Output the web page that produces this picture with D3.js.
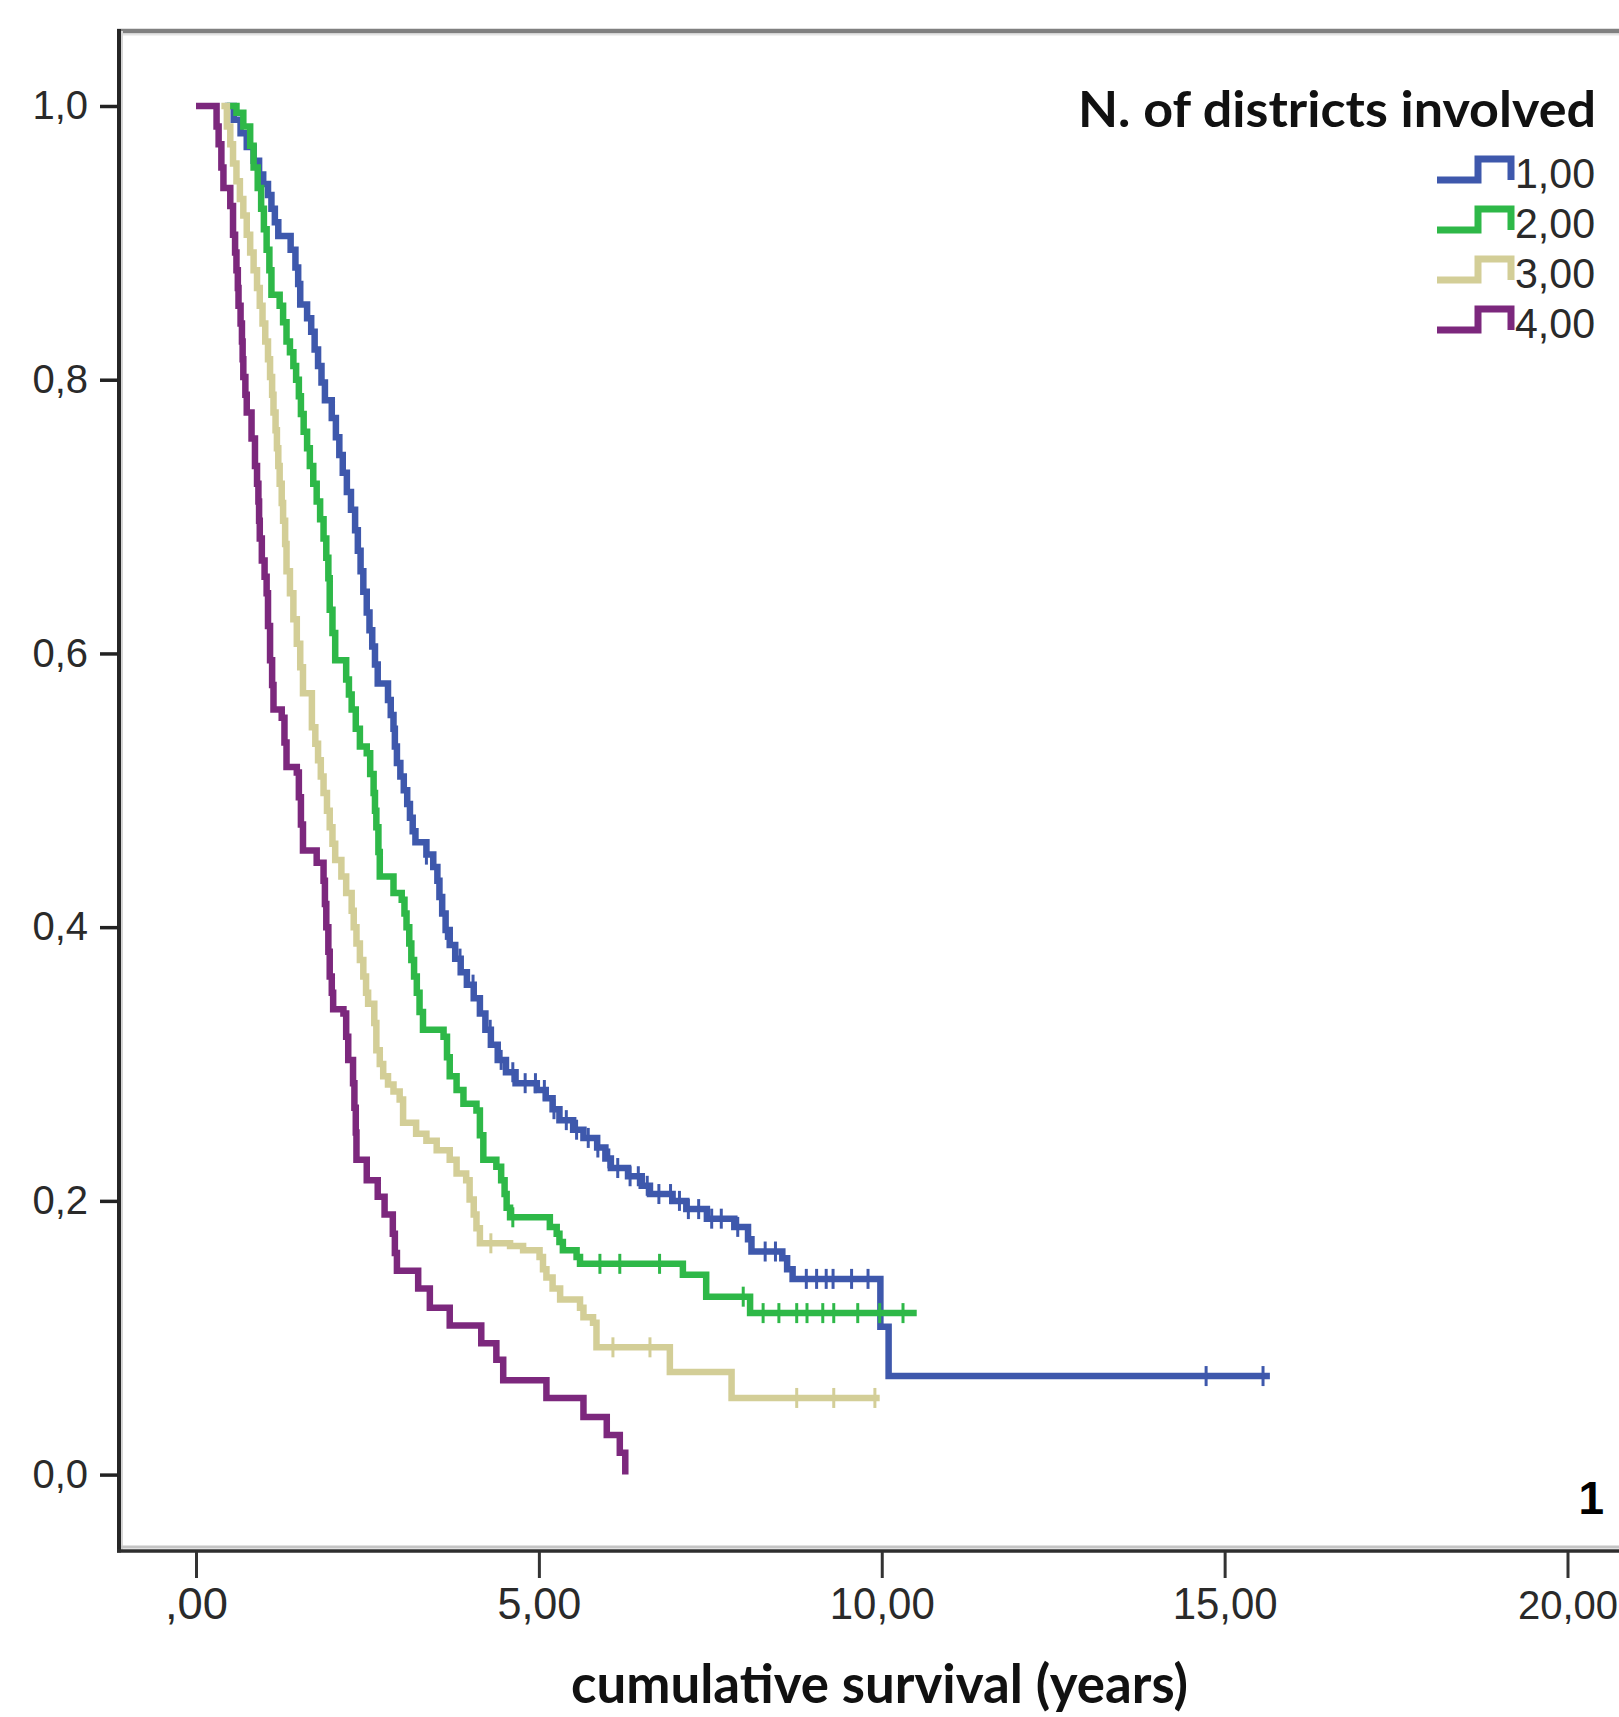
<!DOCTYPE html>
<html>
<head>
<meta charset="utf-8">
<script src="https://cdn.jsdelivr.net/npm/d3@7"></script>
<style>
  html, body { margin: 0; padding: 0; background: #ffffff; }
  svg { display: block; }
</style>
</head>
<body>
<svg id="chart" width="1619" height="1717"></svg>
<script>
// ---------------- DATA ----------------
const categories = ["1,00", "2,00", "3,00", "4,00"];
const legendTitle = "N. of districts involved";
const xTitle = "cumulative survival (years)";
const panelLabel = "1";

const xTicks = [0, 5, 10, 15, 20];
const xTickLabels = [",00", "5,00", "10,00", "15,00", "20,00"];
const yTicks = [0, 0.2, 0.4, 0.6, 0.8, 1.0];
const yTickLabels = ["0,0", "0,2", "0,4", "0,6", "0,8", "1,0"];

// Kaplan-Meier steps: [time (years), survival]
const series1 = [
  [0.42,1.0],[0.55,0.99],[0.65,0.98],[0.74,0.97],[0.84,0.96],[0.92,0.95],[0.98,0.943],
  [1.05,0.935],[1.10,0.925],[1.15,0.915],[1.20,0.905],[1.38,0.895],[1.45,0.882],[1.49,0.87],
  [1.52,0.855],[1.62,0.845],[1.68,0.835],[1.73,0.822],[1.78,0.81],[1.83,0.798],[1.88,0.785],
  [1.98,0.772],[2.04,0.758],[2.09,0.745],[2.14,0.732],[2.20,0.718],[2.26,0.705],[2.32,0.69],
  [2.36,0.675],[2.40,0.66],[2.44,0.645],[2.49,0.63],[2.53,0.617],[2.57,0.605],[2.61,0.592],
  [2.65,0.578],[2.80,0.566],[2.84,0.555],[2.88,0.545],[2.90,0.532],[2.93,0.52],[2.98,0.51],
  [3.03,0.50],[3.08,0.49],[3.12,0.48],[3.16,0.47],[3.20,0.462],[3.36,0.453],[3.46,0.444],
  [3.52,0.434],[3.55,0.422],[3.59,0.41],[3.64,0.398],[3.70,0.387],[3.78,0.377],[3.86,0.367],
  [3.95,0.358],[4.05,0.348],[4.14,0.337],[4.22,0.325],[4.30,0.314],[4.40,0.303],[4.52,0.294],
  [4.66,0.286],[4.97,0.281],[5.10,0.275],[5.20,0.267],[5.30,0.259],[5.50,0.252],[5.65,0.246],
  [5.85,0.239],[5.97,0.231],[6.05,0.224],[6.30,0.218],[6.50,0.211],[6.62,0.205],[6.95,0.200],
  [7.15,0.194],[7.45,0.187],[7.85,0.181],[8.05,0.172],[8.10,0.163],[8.55,0.158],[8.62,0.150],
  [8.70,0.143],[9.98,0.108],[10.10,0.072],[15.66,0.072]
];
const series2 = [
  [0.45,1.0],[0.59,0.995],[0.69,0.985],[0.79,0.971],[0.84,0.955],[0.90,0.94],[0.95,0.925],
  [0.99,0.91],[1.03,0.895],[1.07,0.88],[1.10,0.862],[1.22,0.854],[1.27,0.842],[1.32,0.828],
  [1.37,0.82],[1.42,0.81],[1.46,0.80],[1.50,0.788],[1.53,0.775],[1.57,0.762],[1.62,0.75],
  [1.66,0.737],[1.71,0.724],[1.76,0.711],[1.81,0.698],[1.86,0.684],[1.90,0.67],[1.93,0.655],
  [1.95,0.632],[1.99,0.615],[2.03,0.595],[2.19,0.581],[2.23,0.57],[2.27,0.559],[2.33,0.545],
  [2.39,0.532],[2.49,0.527],[2.54,0.512],[2.59,0.498],[2.61,0.485],[2.63,0.473],[2.66,0.455],
  [2.68,0.437],[2.88,0.425],[3.00,0.42],[3.04,0.41],[3.07,0.40],[3.11,0.388],[3.14,0.376],
  [3.18,0.364],[3.22,0.352],[3.26,0.338],[3.31,0.325],[3.61,0.32],[3.66,0.305],[3.70,0.291],
  [3.80,0.281],[3.90,0.271],[4.09,0.266],[4.14,0.248],[4.19,0.230],[4.38,0.225],[4.45,0.215],
  [4.50,0.205],[4.53,0.195],[4.58,0.188],[5.16,0.181],[5.26,0.176],[5.30,0.170],[5.35,0.164],
  [5.55,0.159],[5.60,0.154],[7.10,0.146],[7.44,0.130],[8.08,0.118],[10.51,0.118]
];
const series3 = [
  [0.37,1.0],[0.45,0.985],[0.50,0.972],[0.54,0.958],[0.59,0.945],[0.64,0.932],[0.69,0.92],
  [0.74,0.906],[0.79,0.893],[0.84,0.88],[0.89,0.867],[0.93,0.854],[0.97,0.841],[1.01,0.828],
  [1.05,0.815],[1.08,0.802],[1.11,0.789],[1.13,0.776],[1.16,0.763],[1.18,0.75],[1.20,0.737],
  [1.22,0.724],[1.25,0.71],[1.27,0.697],[1.30,0.68],[1.32,0.66],[1.37,0.644],[1.42,0.625],
  [1.47,0.607],[1.52,0.59],[1.56,0.571],[1.69,0.546],[1.74,0.534],[1.78,0.522],[1.82,0.51],
  [1.86,0.498],[1.91,0.485],[1.95,0.473],[1.99,0.461],[2.03,0.449],[2.12,0.437],[2.19,0.425],
  [2.27,0.412],[2.30,0.40],[2.34,0.388],[2.39,0.376],[2.44,0.364],[2.48,0.352],[2.51,0.344],
  [2.60,0.33],[2.63,0.31],[2.68,0.30],[2.73,0.291],[2.80,0.285],[2.88,0.28],[2.97,0.274],
  [3.02,0.257],[3.21,0.249],[3.36,0.244],[3.51,0.237],[3.70,0.23],[3.80,0.22],[3.94,0.215],
  [3.99,0.201],[4.05,0.19],[4.09,0.18],[4.14,0.169],[4.58,0.167],[4.77,0.164],[5.01,0.159],
  [5.06,0.15],[5.11,0.144],[5.20,0.136],[5.31,0.128],[5.60,0.122],[5.65,0.115],[5.79,0.111],
  [5.84,0.093],[6.91,0.075],[7.81,0.056],[9.97,0.056]
];
const series4 = [
  [0.0,1.0],[0.30,0.985],[0.33,0.972],[0.37,0.955],[0.40,0.94],[0.50,0.927],[0.54,0.906],
  [0.57,0.893],[0.59,0.88],[0.61,0.867],[0.62,0.854],[0.65,0.841],[0.67,0.828],[0.68,0.815],
  [0.69,0.802],[0.72,0.789],[0.74,0.776],[0.81,0.757],[0.86,0.737],[0.89,0.724],[0.91,0.711],
  [0.92,0.697],[0.93,0.684],[0.96,0.668],[1.00,0.656],[1.03,0.644],[1.05,0.62],[1.08,0.595],
  [1.11,0.577],[1.13,0.559],[1.25,0.553],[1.29,0.535],[1.32,0.517],[1.47,0.513],[1.50,0.495],
  [1.53,0.475],[1.56,0.456],[1.76,0.447],[1.86,0.434],[1.88,0.417],[1.90,0.40],[1.93,0.382],
  [1.95,0.364],[1.98,0.352],[2.00,0.34],[2.15,0.337],[2.19,0.32],[2.22,0.303],[2.29,0.286],
  [2.31,0.268],[2.33,0.25],[2.34,0.230],[2.49,0.215],[2.65,0.203],[2.75,0.19],[2.87,0.176],
  [2.90,0.162],[2.93,0.149],[3.24,0.136],[3.41,0.122],[3.70,0.109],[4.16,0.096],[4.38,0.084],
  [4.48,0.069],[5.11,0.056],[5.65,0.042],[5.99,0.029],[6.18,0.016],[6.26,0.0]
];

// censored observations (years)
const censor1 = [3.36,3.65,3.85,4.04,4.29,4.45,4.62,4.80,4.95,5.08,5.22,5.40,5.55,5.72,5.86,
  6.02,6.15,6.33,6.45,6.58,6.75,6.92,7.05,7.18,7.33,7.52,7.66,7.90,8.30,8.45,8.90,9.05,9.19,
  9.29,9.56,9.80,14.73,15.56];
const censor2 = [4.62,5.89,6.18,6.76,7.98,8.27,8.50,8.76,8.91,9.14,9.30,9.65,9.97,10.31];
const censor3 = [4.30,6.08,6.62,8.76,9.30,9.90];
const censor4 = [];

const seriesList = [series1, series2, series3, series4];
const censorList = [censor1, censor2, censor3, censor4];
const colors = ["#3E58AC", "#2EB848", "#D3CE97", "#7C287D"];

// ---------------- LAYOUT ----------------
const svg = d3.select("#chart");
const W = 1619, H = 1717;
const frameL = 119, frameT = 31, frameB = 1551;

const x = d3.scaleLinear().domain([0, 20]).range([196, 1567.5]);
const y = d3.scaleLinear().domain([0, 1]).range([1474.6, 106]);

svg.append("rect").attr("width", W).attr("height", H).attr("fill", "#fff");

// frame
svg.append("line").attr("x1", frameL).attr("x2", W).attr("y1", frameT + 3.5).attr("y2", frameT + 3.5)
  .attr("stroke", "#e4e4e4").attr("stroke-width", 2);
svg.append("line").attr("x1", frameL - 2).attr("x2", W).attr("y1", frameT).attr("y2", frameT)
  .attr("stroke", "#808080").attr("stroke-width", 4.5);
svg.append("line").attr("x1", frameL + 3).attr("x2", frameL + 3).attr("y1", frameT).attr("y2", frameB)
  .attr("stroke", "#d6d6d6").attr("stroke-width", 2);
svg.append("line").attr("x1", frameL).attr("x2", W).attr("y1", frameB - 4).attr("y2", frameB - 4)
  .attr("stroke", "#c4c4c4").attr("stroke-width", 3);
svg.append("line").attr("x1", frameL).attr("x2", frameL).attr("y1", frameT - 2).attr("y2", frameB + 1.5)
  .attr("stroke", "#262626").attr("stroke-width", 4);
svg.append("line").attr("x1", frameL - 2).attr("x2", W).attr("y1", frameB).attr("y2", frameB)
  .attr("stroke", "#2e2e2e").attr("stroke-width", 3.5);

// axes
const yAxis = d3.axisLeft(y).tickValues(yTicks)
  .tickFormat(d => yTickLabels[yTicks.indexOf(d)])
  .tickSize(18).tickPadding(12);
const gy = svg.append("g").attr("transform", `translate(${frameL - 1},0)`).call(yAxis);
gy.select(".domain").remove();
gy.selectAll(".tick line").attr("stroke", "#222").attr("stroke-width", 3.5);
gy.selectAll(".tick text").attr("fill", "#2a2a2a")
  .style("font-family", "'Liberation Sans', Arial, sans-serif").style("font-size", "40px");

const xAxis = d3.axisBottom(x).tickValues(xTicks)
  .tickFormat(d => xTickLabels[xTicks.indexOf(d)])
  .tickSize(26).tickPadding(10);
const gx = svg.append("g").attr("transform", `translate(0,${frameB + 1})`).call(xAxis);
gx.select(".domain").remove();
gx.selectAll(".tick line").attr("stroke", "#333").attr("stroke-width", 3);
gx.selectAll(".tick text").attr("fill", "#2a2a2a")
  .style("font-family", "'Liberation Sans', Arial, sans-serif")
  .each(function(d) {
    const s = xTickLabels[xTicks.indexOf(d)];
    const sel = d3.select(this);
    if (d === 20) {
      // right-most label sits against the page edge: fit it inside
      sel.style("font-size", "40px").attr("dy", "0.78em");
    } else {
      sel.style("font-size", "44px")
        .attr("textLength", s.length * 21).attr("lengthAdjust", "spacingAndGlyphs");
    }
  });

// curves
const line = d3.line().x(d => x(d[0])).y(d => y(d[1])).curve(d3.curveStepAfter);

function survAt(series, t) {
  let s = series[0][1];
  for (const p of series) { if (p[0] <= t) s = p[1]; else break; }
  return s;
}

seriesList.forEach((ser, i) => {
  svg.append("path").datum(ser)
    .attr("d", line)
    .attr("fill", "none")
    .attr("stroke", colors[i])
    .attr("stroke-width", 6.5)
    .attr("stroke-linejoin", "miter")
    .attr("stroke-linecap", "butt");
  svg.append("g").selectAll("line").data(censorList[i]).join("line")
    .attr("x1", t => x(t)).attr("x2", t => x(t))
    .attr("y1", t => y(survAt(ser, t)) - 10)
    .attr("y2", t => y(survAt(ser, t)) + 10)
    .attr("stroke", colors[i]).attr("stroke-width", 3);
});

// legend
svg.append("text").text(legendTitle)
  .attr("x", 1596).attr("y", 127).attr("text-anchor", "end")
  .attr("textLength", 518).attr("lengthAdjust", "spacingAndGlyphs")
  .style("font-family", "Lato, 'Open Sans', sans-serif").style("font-weight", "700")
  .style("font-size", "50px").attr("fill", "#111");

const legRows = svg.append("g").selectAll("g").data(categories).join("g")
  .attr("transform", (d, i) => `translate(0,${188 + i * 50})`);
legRows.append("path")
  .attr("d", "M1437,-8 H1478 V-29 H1511 V-8")
  .attr("fill", "none")
  .attr("stroke", (d, i) => colors[i])
  .attr("stroke-width", 7);
legRows.append("text").text(d => d)
  .attr("x", 1515).attr("y", 0)
  .attr("textLength", 80).attr("lengthAdjust", "spacingAndGlyphs")
  .style("font-family", "'Liberation Sans', Arial, sans-serif").style("font-size", "42px")
  .attr("fill", "#2a2a2a");

// panel label
svg.append("text").text(panelLabel)
  .attr("x", 1604).attr("y", 1514).attr("text-anchor", "end")
  .style("font-family", "'Liberation Sans', Arial, sans-serif").style("font-weight", "700")
  .style("font-size", "46px").attr("fill", "#000");

// x title
svg.append("text").text(xTitle)
  .attr("x", 879.5).attr("y", 1703).attr("text-anchor", "middle")
  .attr("textLength", 617).attr("lengthAdjust", "spacingAndGlyphs")
  .style("font-family", "Lato, 'Open Sans', sans-serif").style("font-weight", "700")
  .style("font-size", "54px").attr("fill", "#111");
</script>
</body>
</html>
